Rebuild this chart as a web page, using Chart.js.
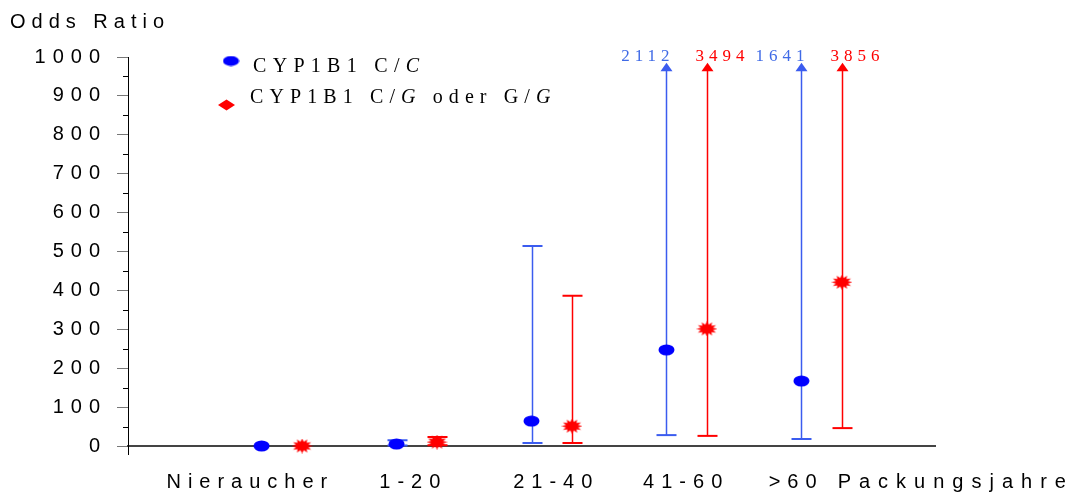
<!DOCTYPE html>
<html>
<head>
<meta charset="utf-8">
<script src="https://cdn.jsdelivr.net/npm/chart.js@4.4.1/dist/chart.umd.min.js"></script>
<style>
  html, body { margin: 0; padding: 0; background: #fff; }
  #wrap { position: relative; width: 1072px; height: 493px; }
</style>
</head>
<body>
<div id="wrap"><canvas id="myChart"></canvas></div>
<script>
// data
const categories = ['Nieraucher', '1-20', '21-40', '41-60', '>60'];
const axisUnit = 'Packungsjahre';
const yTitle = 'Odds Ratio';

const ccOR    = [0, 5, 64, 247, 167];
const ccLower = [null, 1, 8, 28, 18];
const ccUpper = [null, 15, 514, 2112, 1641];

const cgOR    = [0, 10, 51, 301, 421];
const cgLower = [null, 2, 8, 26, 46];
const cgUpper = [null, 23, 386, 3494, 3856];

const yMax = 1000;
const yStep = 100;

// styles
const BLUE = '#0000ff', BLUE_BAR = '#3b5cef', BLUE_TXT = '#3f6ae6';
const RED = '#ff0000';
const SANS = '"Liberation Sans", Arial, sans-serif';
const SERIF = '"Liberation Serif", "Times New Roman", serif';

function mkEllipse(w, h, color) {
  const c = document.createElement('canvas');
  c.width = w; c.height = h;
  const g = c.getContext('2d');
  g.fillStyle = color;
  g.beginPath();
  g.ellipse(w / 2, h / 2, w / 2 - 0.5, h / 2 - 0.5, 0, 0, Math.PI * 2);
  g.fill();
  return c;
}
function mkBurst(w, h, color) {
  const c = document.createElement('canvas');
  c.width = w; c.height = h;
  const g = c.getContext('2d');
  g.fillStyle = color;
  g.beginPath();
  const n = 12;
  for (let i = 0; i < n * 2; i++) {
    const a = i * Math.PI / n;
    const f = i % 2 ? 0.6 : 1;
    const px = w / 2 + Math.cos(a) * (w / 2) * f;
    const py = h / 2 + Math.sin(a) * (h / 2) * f;
    i ? g.lineTo(px, py) : g.moveTo(px, py);
  }
  g.closePath();
  g.fill();
  return c;
}

const dodge = 0.15;
const ccPts = ccOR.map((v, i) => ({ x: i - dodge, y: v }));
const cgPts = cgOR.map((v, i) => ({ x: i + dodge, y: v }));

function spaced(ctx, text, x, y, font, spacing, color, align) {
  ctx.save();
  ctx.font = font;
  ctx.letterSpacing = spacing + 'px';
  ctx.fillStyle = color;
  ctx.textAlign = align || 'left';
  ctx.textBaseline = 'alphabetic';
  ctx.fillText(text, x, y);
  ctx.restore();
}

function richText(ctx, parts, x, y, size, spacing) {
  ctx.save();
  ctx.letterSpacing = spacing + 'px';
  ctx.fillStyle = '#000';
  ctx.textBaseline = 'alphabetic';
  for (const [t, it] of parts) {
    ctx.font = (it ? 'italic ' : '') + size + 'px ' + SERIF;
    ctx.fillText(t, x, y);
    x += ctx.measureText(t).width;
  }
  ctx.restore();
}

const errorBars = {
  id: 'errorBars',
  beforeDatasetsDraw(chart) {
    const { ctx, scales: { x, y } } = chart;
    const sets = [
      [ccLower, ccUpper, -dodge, BLUE_BAR, BLUE_TXT, 'right', 8],
      [cgLower, cgUpper, dodge, RED, RED, 'left', -12]
    ];
    ctx.save();
    for (const [lo, hi, dx, col, tcol, align, tdx] of sets) {
      lo.forEach((l, i) => {
        if (l == null) return;
        const px = Math.round(x.getPixelForValue(i + dx)) + 0.5;
        const yLo = y.getPixelForValue(l);
        const clipped = hi[i] > yMax;
        const yHi = y.getPixelForValue(clipped ? 966 : hi[i]);
        ctx.strokeStyle = col;
        ctx.lineWidth = 1.5;
        ctx.beginPath();
        ctx.moveTo(px, yLo); ctx.lineTo(px, yHi);
        ctx.stroke();
        ctx.lineWidth = 2;
        ctx.beginPath();
        ctx.moveTo(px - 10, yLo); ctx.lineTo(px + 10, yLo);
        if (!clipped) { ctx.moveTo(px - 10, yHi); ctx.lineTo(px + 10, yHi); }
        ctx.stroke();
        if (clipped) {
          const tip = y.getPixelForValue(985);
          ctx.fillStyle = col;
          ctx.beginPath();
          ctx.moveTo(px, tip); ctx.lineTo(px - 6, yHi + 1); ctx.lineTo(px + 6, yHi + 1);
          ctx.closePath(); ctx.fill();
          spaced(ctx, String(hi[i]), px + tdx, tip - 2, '17px ' + SERIF, 5, tcol, align);
        }
      });
    }
    ctx.restore();
  }
};

const legendMarks = { blue: mkEllipse(17, 11, BLUE) };
const decor = {
  id: 'decor',
  beforeDraw(chart) { chart.ctx.letterSpacing = '7px'; },
  afterDraw(chart) {
    const { ctx, scales: { x, y } } = chart;
    ctx.save();
    // minor ticks and axis extension
    ctx.strokeStyle = '#000';
    ctx.lineWidth = 1;
    ctx.beginPath();
    for (let v = yStep / 2; v < yMax; v += yStep) {
      const py = Math.round(y.getPixelForValue(v)) + 0.5;
      ctx.moveTo(y.right - 5, py); ctx.lineTo(y.right, py);
    }
    ctx.moveTo(y.right + 0.5, y.bottom); ctx.lineTo(y.right + 0.5, y.bottom + 9);
    ctx.stroke();

    // title
    spaced(ctx, yTitle, 10, 28, '20px ' + SANS, 6, '#000', 'left');

    // category labels
    const nudge = [-35, -7, 1, -4, -29];
    categories.forEach((c, i) => {
      spaced(ctx, c, x.getPixelForValue(i) + nudge[i] + 3.5, 488, '20px ' + SANS, 7, '#000', 'center');
    });
    spaced(ctx, axisUnit, x.getPixelForValue(categories.length - 1) + 16, 488, '20px ' + SANS, 8, '#000', 'left');

    // legend
    ctx.drawImage(legendMarks.blue, 231 - 8.5, 61 - 5.5);
    ctx.fillStyle = RED;
    ctx.beginPath();
    ctx.moveTo(218, 105); ctx.lineTo(226.5, 99.5); ctx.lineTo(235, 105); ctx.lineTo(226.5, 110.5);
    ctx.closePath(); ctx.fill();
    richText(ctx, [['CYP1B1 C/', false], ['C', true]], 253, 72, 20, 6.3);
    richText(ctx, [['CYP1B1 C/', false], ['G', true], [' oder G/', false], ['G', true]], 250, 103, 20, 6.1);
    ctx.restore();
  }
};

const ctx = document.getElementById('myChart').getContext('2d');
new Chart(ctx, {
  type: 'scatter',
  data: {
    datasets: [
      { label: 'CYP1B1 C/C', data: ccPts, pointStyle: mkEllipse(17, 12, BLUE), pointRadius: 8, clip: false },
      { label: 'CYP1B1 C/G oder G/G', data: cgPts, pointStyle: mkBurst(21, 15, RED), pointRadius: 8, clip: false }
    ]
  },
  options: {
    responsive: true,
    maintainAspectRatio: false,
    animation: false,
    events: [],
    layout: { padding: { top: 57, right: 137, left: 0, bottom: 0 } },
    plugins: { legend: { display: false }, tooltip: { enabled: false } },
    scales: {
      x: {
        type: 'linear',
        min: -1.14, max: 4.84,
        ticks: { display: false },
        grid: { display: false },
        border: { display: true, color: '#444', width: 2 },
        afterFit(s) { s.height = 47; }
      },
      y: {
        min: 0, max: yMax,
        ticks: { stepSize: yStep, padding: 10, color: '#000', font: { family: SANS, size: 20 }, callback: v => String(v) },
        grid: { display: true, drawOnChartArea: false, drawTicks: true, tickLength: 11, color: '#777' },
        border: { display: true, color: '#000', width: 1 },
        afterFit(s) { s.width = 128; }
      }
    }
  },
  plugins: [errorBars, decor]
});
</script>
</body>
</html>
